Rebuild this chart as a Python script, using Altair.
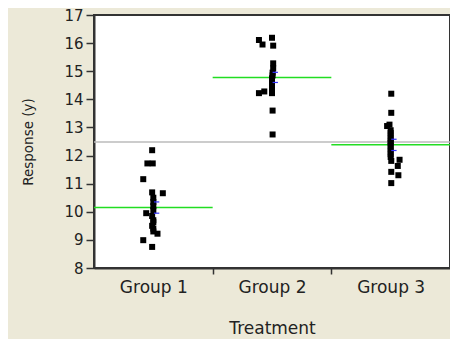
import altair as alt
import pandas as pd

groups = ["Group 1", "Group 2", "Group 3"]

g1_y = [12.19, 11.72, 11.72, 11.16, 10.69, 10.66, 10.5, 10.35, 10.2, 10.05, 9.95,
        9.85, 9.7, 9.63, 9.5, 9.4, 9.3, 9.22, 8.99, 8.75]
g1_j = [-0.01, -0.05, -0.005, -0.085, -0.01, 0.08, 0.0, 0.0, 0.0, 0.0, -0.06,
        -0.01, 0.0, 0.0, -0.01, 0.0, 0.0, 0.035, -0.085, -0.01]

g2_y = [16.11, 15.95, 16.19, 15.91, 15.28, 15.1, 14.95, 14.85, 14.75, 14.65,
        14.55, 14.45, 14.35, 14.28, 14.22, 14.22, 13.6, 12.75]
g2_j = [-0.11, -0.08, 0.0, 0.01, 0.01, 0.01, 0.005, 0.005, 0.0, 0.0,
        0.0, 0.0, 0.0, -0.065, -0.11, 0.0, 0.005, 0.005]

g3_y = [14.2, 13.52, 13.1, 13.05, 12.9, 12.8, 12.7, 12.6, 12.5, 12.45, 12.35,
        12.25, 12.15, 12.05, 11.95, 11.85, 11.81, 11.63, 11.42, 11.3, 11.02]
g3_j = [0.005, 0.005, -0.01, -0.03, 0.0, 0.0, 0.0, 0.0, 0.0, 0.0, 0.0,
        0.0, 0.0, 0.0, 0.0, 0.075, 0.005, 0.06, 0.005, 0.065, 0.005]

group_means = [10.15, 14.78, 12.38]
mean_err = [0.2, 0.18, 0.2]
grand_mean = 12.48

y_ticks = [8, 9, 10, 11, 12, 13, 14, 15, 16, 17]

rows = []
for gi, (ys, js) in enumerate([(g1_y, g1_j), (g2_y, g2_j), (g3_y, g3_j)]):
    for y, j in zip(ys, js):
        rows.append({"xpos": gi + 1 + j, "y": y, "group": groups[gi]})
pts = pd.DataFrame(rows)

means = pd.DataFrame({
    "x0": [i + 0.5 for i in range(3)],
    "x1": [i + 1.5 for i in range(3)],
    "m": group_means,
})
blue = pd.DataFrame({
    "x0": [i + 1.005 for i in range(3)] * 2,
    "x1": [i + 1.05 for i in range(3)] * 2,
    "v": [m + e for m, e in zip(group_means, mean_err)] + [m - e for m, e in zip(group_means, mean_err)],
})
gm = pd.DataFrame({"v": [grand_mean]})

xscale = alt.Scale(domain=[0.5, 3.5], nice=False, zero=False)
yscale = alt.Scale(domain=[8, 17], nice=False, zero=False)

label_expr = "datum.value == 1 ? 'Group 1' : datum.value == 2 ? 'Group 2' : datum.value == 3 ? 'Group 3' : ''"

xaxis = alt.Axis(
    values=[1, 1.5, 2, 2.5, 3],
    labelExpr=label_expr,
    title="Treatment",
    tickSize=6,
    tickOpacity={"condition": {"test": "datum.value % 1 === 0", "value": 0}, "value": 1},
    labelPadding=5,
    titlePadding=25,
    grid=False,
)
yaxis = alt.Axis(
    values=y_ticks,
    title="Response (y)",
    tickSize=8,
    labelPadding=3,
    titlePadding=28,
    grid=False,
)

base_gm = alt.Chart(gm).mark_rule(color="#BBBBBB", strokeWidth=1.5).encode(
    y=alt.Y("v:Q", scale=yscale, axis=yaxis)
)

green = alt.Chart(means).mark_rule(color="#22DD22", strokeWidth=1.5).encode(
    x=alt.X("x0:Q", scale=xscale, axis=xaxis),
    x2="x1:Q",
    y=alt.Y("m:Q", scale=yscale, axis=yaxis),
)

blues = alt.Chart(blue).mark_rule(color="#3333FF", strokeWidth=1.2).encode(
    x=alt.X("x0:Q", scale=xscale, axis=xaxis),
    x2="x1:Q",
    y=alt.Y("v:Q", scale=yscale, axis=yaxis),
)

points = alt.Chart(pts).mark_square(size=36, color="black", opacity=1).encode(
    x=alt.X("xpos:Q", scale=xscale, axis=xaxis),
    y=alt.Y("y:Q", scale=yscale, axis=yaxis),
)

chart = alt.layer(base_gm, green, points, blues).properties(
    width=356,
    height=253,
    background="#ECE9D8",
    padding={"left": 86, "top": 7, "right": 0, "bottom": 71},
    autosize=alt.AutoSizeParams(type="none"),
).configure_view(
    fill="white", stroke="#333333", strokeWidth=2
).configure_axis(
    labelFont="DejaVu Sans",
    titleFont="DejaVu Sans",
    labelFontSize=17,
    titleFontSize=17,
    titleFontWeight="normal",
    labelColor="#222222",
    titleColor="#222222",
    domainColor="#333333",
    domainWidth=2,
    tickColor="#333333",
    tickWidth=1.5,
).configure_axisY(
    titleFontSize=13.5,
    labelFontSize=15,
)

chart.save("out.html", embed_options={"renderer": "svg", "actions": False})
